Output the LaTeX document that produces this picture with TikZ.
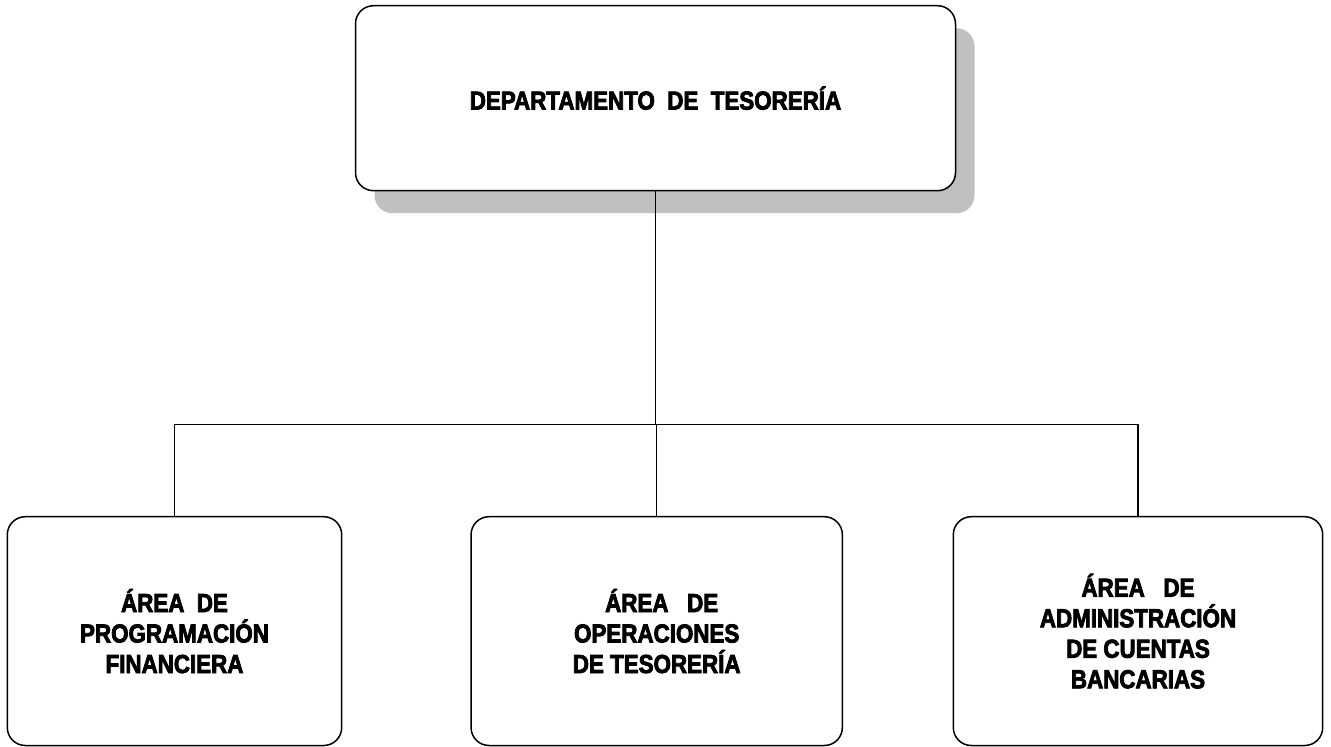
\documentclass[tikz,border=0pt]{standalone}
\usepackage{fontspec}
\usetikzlibrary{shadows}
\newfontfamily\orgfam{Liberation Sans}[FakeStretch=0.86,FakeBold=3]
\definecolor{shadowgray}{HTML}{C0C0C0}
\begin{document}
\begin{tikzpicture}[x=1pt,y=-1pt,
  orgtext/.style={font=\orgfam\bfseries\fontsize{26}{30.5}\selectfont, align=center, text=black},
  orgbox/.style={orgtext, draw=black, line width=1.5pt, rounded corners=18pt, fill=white, inner sep=0pt},
  link/.style={draw=black, line width=1.1pt}
]
\useasboundingbox (0,0) rectangle (1331,747);

\node[orgbox, minimum width=600pt, minimum height=185pt,
      drop shadow={shadow xshift=19pt, shadow yshift=-22.5pt, fill=shadowgray, opacity=1}]
  (top) at (655.5,98.2) {DEPARTAMENTO~~DE~~TESORERÍA};

\node[orgbox, minimum width=334.4pt, minimum height=228.8pt]
  (b1) at (174.5,631.1) {ÁREA~~DE\\PROGRAMACIÓN\\FINANCIERA};
\node[orgbox, minimum width=371.3pt, minimum height=228.8pt]
  (b2) at (656.7,631.1) {\hspace*{10pt}ÁREA~~~DE\\OPERACIONES\\DE TESORERÍA};
\node[orgbox, minimum width=369.4pt, minimum height=228.8pt]
  (b3) at (1138,631.1) {ÁREA~~~DE\\ADMINISTRACIÓN\\DE CUENTAS\\BANCARIAS};

\coordinate (bus) at (0,424.3);
\draw[link] (top.south) -- (top.south |- bus);
\draw[link] (b1.north) -- (b1.north |- bus) -- (b3.north |- bus) -- (b3.north);
\draw[link] (b2.north) -- (b2.north |- bus);
\end{tikzpicture}
\end{document}
